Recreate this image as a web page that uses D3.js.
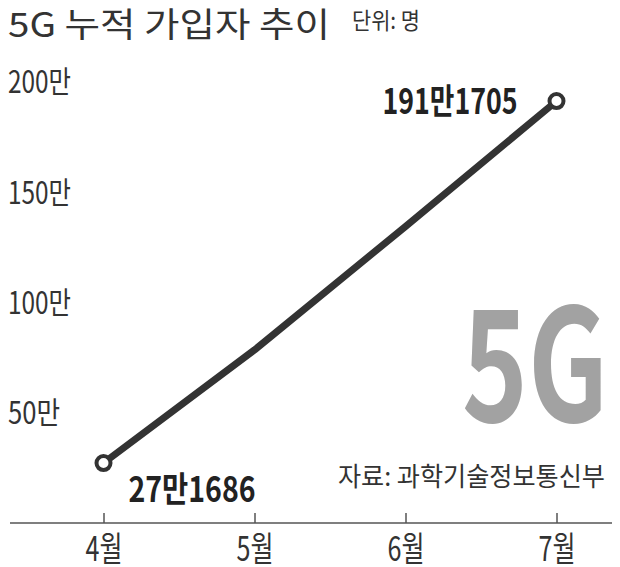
<!DOCTYPE html>
<html><head><meta charset="utf-8">
<script src="https://cdn.jsdelivr.net/npm/d3@7"></script>
<style>
html,body{margin:0;padding:0;background:#fff;}
text{font-family:"Noto Sans CJK KR","Noto Sans",sans-serif;}
</style></head>
<body>
<svg id="chart" width="620" height="567"></svg>
<script>
const months = ["4월", "5월", "6월", "7월"];
const subscribers = [271686, 784215, 1343677, 1911705];
const yTicks = [500000, 1000000, 1500000, 2000000];
const yTickLabels = ["50만", "100만", "150만", "200만"];
const firstLabel = "27만1686";
const lastLabel = "191만1705";
const title = "5G 누적 가입자 추이";
const unit = "단위: 명";
const source = "자료: 과학기술정보통신부";

const svg = d3.select("#chart");
const x = d3.scalePoint().domain(months).range([103.5, 556.5]);
const y = d3.scaleLinear().domain([0, 2000000]).range([523, 81.6]);

// title
svg.append("text").attr("x", 8).attr("y", 37).attr("font-size", 34).attr("fill", "#333")
  .attr("textLength", 322).attr("lengthAdjust", "spacingAndGlyphs").text(title);
svg.append("text").attr("x", 352).attr("y", 29).attr("font-size", 23).attr("fill", "#333")
  .attr("textLength", 68).attr("lengthAdjust", "spacingAndGlyphs").text(unit);

// y axis labels
const yAxis = d3.axisRight(y).tickValues(yTicks)
  .tickFormat(d => yTickLabels[yTicks.indexOf(d)]).tickSize(0).tickPadding(0);
const gy = svg.append("g").attr("transform", "translate(8,0)").call(yAxis);
gy.select(".domain").remove();
gy.selectAll("text").attr("font-size", 31).attr("fill", "#333").attr("font-family", null)
  .attr("dy", "0.36em")
  .attr("textLength", d => d >= 1000000 ? 63 : 52).attr("lengthAdjust", "spacingAndGlyphs");

// x axis
svg.append("line").attr("x1", 10).attr("x2", 612).attr("y1", y(0)).attr("y2", y(0))
  .attr("stroke", "#555").attr("stroke-width", 1.5);
const xAxis = d3.axisBottom(x).tickSizeInner(-10).tickSizeOuter(0).tickPadding(14);
const gx = svg.append("g").attr("transform", `translate(0,${y(0)})`).call(xAxis);
gx.select(".domain").remove();
gx.selectAll(".tick line").attr("stroke", "#555").attr("stroke-width", 1.5);
gx.selectAll("text").attr("font-size", 34).attr("fill", "#333").attr("font-family", null)
  .attr("textLength", 37).attr("lengthAdjust", "spacingAndGlyphs");

// watermark
svg.append("text").attr("x", 462).attr("y", 422).attr("font-size", 156).attr("font-weight", "bold")
  .attr("font-family", "Liberation Sans, Arial, sans-serif").attr("fill", "#a2a2a2")
  .attr("textLength", 146).attr("lengthAdjust", "spacingAndGlyphs").text("5G");

// source
svg.append("text").attr("x", 338).attr("y", 486).attr("font-size", 26).attr("fill", "#333")
  .attr("textLength", 267).attr("lengthAdjust", "spacingAndGlyphs").text(source);

// line
const data = months.map((m, i) => ({m, v: subscribers[i]}));
svg.append("path").datum(data)
  .attr("d", d3.line().x(d => x(d.m)).y(d => y(d.v)))
  .attr("fill", "none").attr("stroke", "#333").attr("stroke-width", 7).attr("stroke-linejoin", "round");

const ends = [data[0], data[data.length - 1]];
svg.selectAll("circle.end").data(ends).join("circle").attr("class", "end")
  .attr("cx", d => x(d.m)).attr("cy", d => y(d.v)).attr("r", 7)
  .attr("fill", "#fff").attr("stroke", "#333").attr("stroke-width", 4);

// value labels
svg.append("text").attr("x", x(months[0]) + 25).attr("y", y(subscribers[0]) + 39)
  .attr("font-size", 35).attr("font-weight", "bold").attr("fill", "#222")
  .attr("textLength", 127).attr("lengthAdjust", "spacingAndGlyphs").text(firstLabel);
svg.append("text").attr("x", x(months[3]) - 174).attr("y", y(subscribers[3]) + 13)
  .attr("font-size", 35).attr("font-weight", "bold").attr("fill", "#222")
  .attr("textLength", 135).attr("lengthAdjust", "spacingAndGlyphs").text(lastLabel);
</script>
</body></html>
